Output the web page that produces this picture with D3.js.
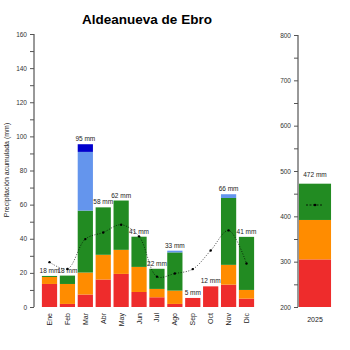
<!DOCTYPE html>
<html>
<head>
<meta charset="utf-8">
<script src="https://cdn.jsdelivr.net/npm/d3@7"></script>
<style>
  html, body { margin: 0; padding: 0; background: #fff; }
  svg { display: block; font-family: "Liberation Sans", Arial, sans-serif; }
</style>
</head>
<body>
<svg id="chart" width="350" height="350"></svg>
<script>
// Monthly accumulated precipitation by intensity class (mm)
const months = ["Ene", "Feb", "Mar", "Abr", "May", "Jun", "Jul", "Ago", "Sep", "Oct", "Nov", "Dic"];
const rojo     = [13.5, 1.8, 7.3, 16.1, 19.4, 8.8, 5.7, 1.8, 5.3, 12.1, 13.1, 4.9];
const naranja  = [4.1, 11.7, 12.9, 14.5, 14.1, 14.7, 4.9, 7.8, 0, 0, 11.6, 5.1];
const verde    = [0.6, 4.9, 36.3, 27.8, 28.9, 17.7, 11.8, 22.4, 0, 0, 39.2, 31.1];
const celeste  = [0, 0, 34.4, 0, 0, 0, 0, 1.0, 0, 0, 2.2, 0];
const azul     = [0, 0, 4.5, 0, 0, 0, 0, 0, 0, 0, 0, 0];
// Climatological monthly mean (mm)
const media    = [26.3, 22.3, 39.8, 43.7, 48.2, 41.4, 17.8, 19.6, 22.2, 33.1, 44.9, 25.5];

// Annual total
const years = ["2025"];
const anualRojo = [305];
const anualNaranja = [87];
const anualVerde = [80];
const anualMedia = [425];

const leftTicks = [0, 20, 40, 60, 80, 100, 120, 140, 160];
const rightTicks = [200, 300, 400, 500, 600, 700, 800];

const colors = ["#EE2C2C", "#FF8C00", "#228B22", "#6495ED", "#0000CD"];
const keys = ["rojo", "naranja", "verde", "celeste", "azul"];

const svg = d3.select("#chart");

// Title
svg.append("text").attr("x", 147).attr("y", 24).attr("text-anchor", "middle")
  .attr("font-size", 13.5).attr("font-weight", "bold").attr("fill", "#000")
  .text("Aldeanueva de Ebro");

// ---------- Monthly panel ----------
const x = d3.scaleBand().domain(months).range([41, 255]).paddingInner(0.15).paddingOuter(0.05);
const y = d3.scaleLinear().domain([0, 160]).range([307, 34]);

const table = months.map((m, i) => ({
  mes: m, rojo: rojo[i], naranja: naranja[i], verde: verde[i], celeste: celeste[i], azul: azul[i]
}));
const stack = d3.stack().keys(keys)(table);

const g = svg.append("g");
stack.forEach((layer, k) => {
  g.append("g").attr("fill", colors[k]).selectAll("rect")
    .data(layer.filter(d => d[1] - d[0] > 0))
    .join("rect")
    .attr("x", d => x(d.data.mes))
    .attr("width", x.bandwidth())
    .attr("y", d => y(d[1]))
    .attr("height", d => y(d[0]) - y(d[1]));
});

// Totals above bars
const totals = table.map(d => keys.reduce((s, k) => s + d[k], 0));
g.selectAll("text.tot").data(months).join("text")
  .attr("class", "tot")
  .attr("x", m => x(m) + x.bandwidth() / 2)
  .attr("y", (m, i) => y(totals[i]) - 3)
  .attr("text-anchor", "middle").attr("font-size", 6.5).attr("fill", "#222")
  .text((m, i) => Math.round(totals[i]) + " mm");

// Mean line
const line = d3.line()
  .x((d, i) => x(months[i]) + x.bandwidth() / 2)
  .y(d => y(d))
  .curve(d3.curveCatmullRom);
g.append("path").datum(media).attr("d", line)
  .attr("fill", "none").attr("stroke", "#000").attr("stroke-width", 0.7)
  .attr("stroke-dasharray", "1,1.6");
g.selectAll("circle.m").data(media).join("circle")
  .attr("class", "m")
  .attr("cx", (d, i) => x(months[i]) + x.bandwidth() / 2)
  .attr("cy", d => y(d)).attr("r", 1.2).attr("fill", "#000");

// Left axis
const yAxis = d3.axisLeft(y).tickValues(d3.range(0, 161, 10)).tickSize(4)
  .tickFormat(d => leftTicks.includes(d) ? d : "");
const ya = svg.append("g").attr("transform", "translate(34,0)").call(yAxis);
ya.select(".domain").attr("stroke", "#333").attr("d", "M0," + y(160) + "V" + y(0));
ya.selectAll(".tick line").attr("stroke", "#555");
ya.selectAll(".tick text").attr("font-size", 6.5).attr("fill", "#333")
  .attr("font-family", "Liberation Sans, Arial, sans-serif");

// Month labels
svg.append("g").selectAll("text").data(months).join("text")
  .attr("transform", m => `translate(${x(m) + x.bandwidth() / 2 + 2.5},313) rotate(-90)`)
  .attr("text-anchor", "end").attr("font-size", 7).attr("fill", "#222")
  .text(m => m);

// Y title
svg.append("text")
  .attr("transform", "translate(9,170) rotate(-90)")
  .attr("text-anchor", "middle").attr("font-size", 7).attr("fill", "#222")
  .text("Precipitación acumulada (mm)");

// ---------- Annual panel ----------
const x2 = d3.scaleBand().domain(years).range([298, 332]).paddingInner(0).paddingOuter(0.03);
const y2 = d3.scaleLinear().domain([200, 800]).range([307, 35]).clamp(true);

const table2 = years.map((yr, i) => ({ anio: yr, rojo: anualRojo[i], naranja: anualNaranja[i], verde: anualVerde[i] }));
const stack2 = d3.stack().keys(["rojo", "naranja", "verde"])(table2);
const g2 = svg.append("g");
stack2.forEach((layer, k) => {
  g2.append("g").attr("fill", colors[k]).selectAll("rect")
    .data(layer).join("rect")
    .attr("x", d => x2(d.data.anio))
    .attr("width", x2.bandwidth())
    .attr("y", d => y2(d[1]))
    .attr("height", d => y2(d[0]) - y2(d[1]));
});
const total2 = anualRojo[0] + anualNaranja[0] + anualVerde[0];
g2.append("text").attr("x", x2("2025") + x2.bandwidth() / 2).attr("y", y2(total2) - 7)
  .attr("text-anchor", "middle").attr("font-size", 6.5).attr("fill", "#222")
  .text(total2 + " mm");
const cx2 = x2("2025") + x2.bandwidth() / 2;
g2.append("line").attr("x1", cx2 - 9).attr("x2", cx2 + 8)
  .attr("y1", y2(anualMedia[0])).attr("y2", y2(anualMedia[0]))
  .attr("stroke", "#000").attr("stroke-width", 0.8).attr("stroke-dasharray", "2,1.5");
g2.append("circle").attr("cx", cx2).attr("cy", y2(anualMedia[0])).attr("r", 1.3).attr("fill", "#000");

const yAxis2 = d3.axisLeft(y2).tickValues(d3.range(200, 801, 50)).tickSize(4)
  .tickFormat(d => rightTicks.includes(d) ? d : "");
const ya2 = svg.append("g").attr("transform", "translate(298,0)").call(yAxis2);
ya2.select(".domain").attr("stroke", "#333").attr("d", "M0," + y2(800) + "V" + y2(200));
ya2.selectAll(".tick line").attr("stroke", "#555");
ya2.selectAll(".tick text").attr("font-size", 6.5).attr("fill", "#333")
  .attr("font-family", "Liberation Sans, Arial, sans-serif");

svg.append("text").attr("x", cx2).attr("y", 322).attr("text-anchor", "middle")
  .attr("font-size", 7).attr("fill", "#222").text(years[0]);
</script>
</body>
</html>
